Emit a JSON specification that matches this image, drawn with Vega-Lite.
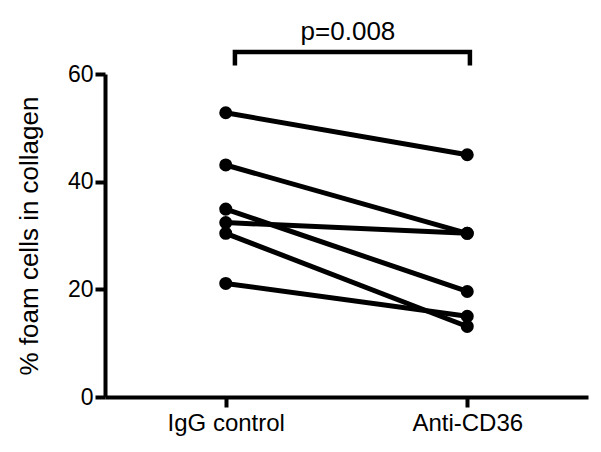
{
  "$schema": "https://vega.github.io/schema/vega-lite/v6.json",
  "width": 483,
  "height": 323,
  "autosize": "none",
  "padding": {"left": 105, "top": 74, "right": 13, "bottom": 55},
  "background": "white",
  "config": {
    "view": {"stroke": null},
    "font": "Liberation Sans",
    "axis": {
      "domainColor": "black", "domainWidth": 4, "tickColor": "black", "tickWidth": 4, "tickSize": 10,
      "labelColor": "black", "titleColor": "black", "labelFont": "Liberation Sans", "titleFont": "Liberation Sans",
      "grid": false, "titleFontWeight": "normal"
    }
  },
  "datasets": {
    "pairs": [
      {"subject": "A", "group": 0, "value": 52.8},
      {"subject": "A", "group": 1, "value": 45.0},
      {"subject": "B", "group": 0, "value": 43.1},
      {"subject": "B", "group": 1, "value": 30.4},
      {"subject": "C", "group": 0, "value": 34.9},
      {"subject": "C", "group": 1, "value": 19.6},
      {"subject": "D", "group": 0, "value": 32.4},
      {"subject": "D", "group": 1, "value": 30.4},
      {"subject": "E", "group": 0, "value": 30.4},
      {"subject": "E", "group": 1, "value": 13.1},
      {"subject": "F", "group": 0, "value": 21.1},
      {"subject": "F", "group": 1, "value": 15.0}
    ],
    "bracket": [
      {"order": 1, "bx": 0.038, "by": 62.0},
      {"order": 2, "bx": 0.038, "by": 64.1},
      {"order": 3, "bx": 1.011, "by": 64.1},
      {"order": 4, "bx": 1.011, "by": 62.0}
    ],
    "label": [{"lx": 0.506, "ly": 67.8, "text": "p=0.008"}]
  },
  "layer": [
    {
      "data": {"name": "pairs"},
      "mark": {"type": "line", "color": "black", "strokeWidth": 5},
      "encoding": {
        "x": {
          "field": "group", "type": "quantitative",
          "scale": {"domain": [-0.5, 1.5], "nice": false, "zero": false},
          "axis": {"values": [0, 1], "labelExpr": "datum.value == 0 ? 'IgG control' : 'Anti-CD36'", "labelFontSize": 24, "labelPadding": 4, "title": null}
        },
        "y": {
          "field": "value", "type": "quantitative",
          "scale": {"domain": [0, 60], "nice": false},
          "axis": {"values": [0, 20, 40, 60], "labelFontSize": 23, "labelPadding": 2, "title": "% foam cells in collagen", "titleFontSize": 26, "titlePadding": 25}
        },
        "detail": {"field": "subject"}
      }
    },
    {
      "data": {"name": "pairs"},
      "mark": {"type": "circle", "color": "black", "opacity": 1, "size": 170},
      "encoding": {
        "x": {"field": "group", "type": "quantitative"},
        "y": {"field": "value", "type": "quantitative"}
      }
    },
    {
      "data": {"name": "bracket"},
      "mark": {"type": "line", "color": "black", "strokeWidth": 4.5, "strokeCap": "square", "clip": false},
      "encoding": {
        "x": {"field": "bx", "type": "quantitative"},
        "y": {"field": "by", "type": "quantitative"},
        "order": {"field": "order"}
      }
    },
    {
      "data": {"name": "label"},
      "mark": {"type": "text", "fontSize": 26, "color": "black", "font": "Liberation Sans", "baseline": "middle", "align": "center"},
      "encoding": {
        "x": {"field": "lx", "type": "quantitative"},
        "y": {"field": "ly", "type": "quantitative"},
        "text": {"field": "text"}
      }
    }
  ]
}
